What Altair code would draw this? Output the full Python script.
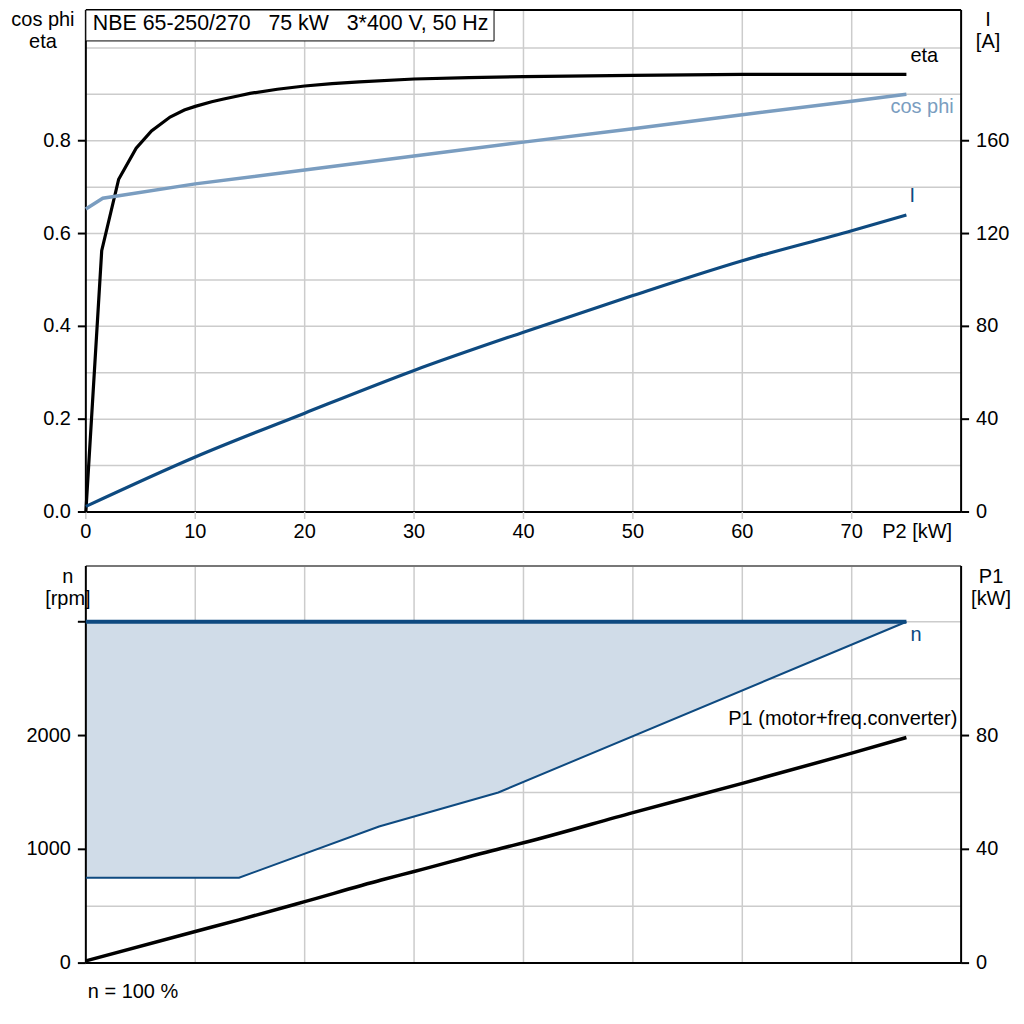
import altair as alt
import pandas as pd

# ---------------- data ----------------
p2_eta = [0, 1.45, 3.0, 4.6, 6.0, 7.7, 9.0, 10, 11.5, 12.6, 14, 15, 17.5, 20, 22.5, 25, 30, 35,
          40, 50, 60, 75]
eta = [0.0, 0.563, 0.717, 0.784, 0.821, 0.851, 0.866, 0.874, 0.884, 0.890, 0.897, 0.902, 0.911,
       0.918, 0.923, 0.927, 0.933, 0.936, 0.938, 0.941, 0.943, 0.943]

p2_cos = [0, 1.55, 10, 20, 30, 40, 50, 60, 70, 75]
cos_phi = [0.653, 0.676, 0.707, 0.737, 0.767, 0.797, 0.826, 0.856, 0.885, 0.900]

p2_I = [0, 10, 20, 30, 40, 50, 60, 70, 75]
current = [2.4, 23.7, 42.6, 61.0, 77.5, 93.3, 108.3, 121.2, 128.0]

p2_n = [0, 75]
n_max = [3000, 3000]
p2_nmin = [0, 14, 26.8, 37.7, 75]
n_min = [750, 750, 1200, 1500, 3000]

p2_P1 = [0, 10, 14, 20, 27, 30, 38, 40, 50, 60, 70, 75]
P1 = [0.8, 11.1, 15.2, 21.6, 29.2, 32.2, 40.4, 42.3, 52.9, 63.2, 73.8, 79.3]

# ticks / grid / labels
x_frame = [0, 80]
x_grid = [10, 20, 30, 40, 50, 60, 70]
x_ticks = [0, 10, 20, 30, 40, 50, 60, 70]
x_labels = ["0", "10", "20", "30", "40", "50", "60", "70"]
top_y_grid = [0.1, 0.2, 0.3, 0.4, 0.5, 0.6, 0.7, 0.8, 0.9, 1.0]
top_y_ticks = [0.0, 0.2, 0.4, 0.6, 0.8]
top_y_labels = ["0.0", "0.2", "0.4", "0.6", "0.8"]
I_ticks = [0, 40, 80, 120, 160]
I_labels = ["0", "40", "80", "120", "160"]
n_grid = [500, 1000, 1500, 2000, 2500, 3000]
n_ticks = [0, 1000, 2000, 3000]
n_labels = ["0", "1000", "2000", ""]
P1_ticks = [0, 40, 80]
P1_labels = ["0", "40", "80"]

title_text = "NBE 65-250/270\u00a0\u00a0\u00a075 kW\u00a0\u00a0\u00a03*400 V, 50 Hz"

# ---------------- geometry / style ----------------
W = 877
H1 = 503
H2 = 398
Y1_MAX = H1 / 465.0
I_MAX = Y1_MAX * 200
N_MAX = H2 / 0.114
P1_MAX = N_MAX / 25.0

C_BLACK = "#000000"
C_COS = "#7a9dc0"
C_DARK = "#0e4a80"
C_FILL = "#d0dce8"
C_GRID = "#cccccc"
C_TOPB = "#777777"
FS = 20

x_scale = alt.Scale(domain=[0, 80], nice=False)
y_top_scale = alt.Scale(domain=[0, Y1_MAX], nice=False)
I_scale = alt.Scale(domain=[0, I_MAX], nice=False)
n_scale = alt.Scale(domain=[0, N_MAX], nice=False)
P1_scale = alt.Scale(domain=[0, P1_MAX], nice=False)


def X(field="p2"):
    return alt.X(f"{field}:Q", scale=x_scale, axis=None)


def Y(scale, field="v"):
    return alt.Y(f"{field}:Q", scale=scale, axis=None)


def df1(col, vals, labels=None):
    d = pd.DataFrame({col: vals})
    if labels is not None:
        d["t"] = labels
    return d


def last(x, y, text):
    return pd.DataFrame({"p2": [x[-1]], "v": [y[-1]], "t": [text]})


def line(x, y, scale, color, width, interp="linear"):
    return alt.Chart(pd.DataFrame({"p2": x, "v": y})).mark_line(
        color=color, strokeWidth=width, interpolate=interp).encode(x=X(), y=Y(scale))


def end_label(x, y, text, scale, color, dx, dy, align="left"):
    return alt.Chart(last(x, y, text)).mark_text(
        align=align, baseline="middle", dx=dx, dy=dy, fontSize=FS, color=color).encode(
        x=X(), y=Y(scale), text="t:N")


def vrules(vals, color, width):
    return alt.Chart(df1("p2", vals)).mark_rule(color=color, strokeWidth=width).encode(x=X())


def hrules(vals, scale, color, width):
    return alt.Chart(df1("v", vals)).mark_rule(color=color, strokeWidth=width).encode(y=Y(scale))


def left_ticks(vals, labels, scale):
    d = df1("v", vals, labels)
    t = alt.Chart(d).mark_rule(color="black", strokeWidth=2).encode(
        y=Y(scale), x=alt.value(-8), x2=alt.value(0))
    lab = alt.Chart(d).mark_text(align="right", baseline="middle", fontSize=FS,
                                 color="black").encode(y=Y(scale), x=alt.value(-15), text="t:N")
    return [t, lab]


def right_ticks(vals, labels, scale):
    d = df1("v", vals, labels)
    t = alt.Chart(d).mark_rule(color="black", strokeWidth=2).encode(
        y=Y(scale), x=alt.value(W), x2=alt.value(W + 8))
    lab = alt.Chart(d).mark_text(align="left", baseline="middle", fontSize=FS,
                                 color="black").encode(y=Y(scale), x=alt.value(W + 15), text="t:N")
    return [t, lab]


def free_text(text, x, y, align="center", baseline="middle", size=FS, color="black"):
    return alt.Chart(df1("v", [0])).mark_text(
        text=text, align=align, baseline=baseline, fontSize=size, color=color,
        lineBreak="\n", lineHeight=22).encode(x=alt.value(x), y=alt.value(y))


# ---------------- top panel ----------------
x_tick_df = df1("p2", x_ticks, x_labels)
top_x_ticks = alt.Chart(x_tick_df).mark_rule(color=C_GRID, strokeWidth=1.5).encode(
    x=X(), y=alt.value(H1), y2=alt.value(H1 + 7))
top_x_labels = alt.Chart(x_tick_df).mark_text(baseline="middle", fontSize=FS, color="black").encode(
    x=X(), y=alt.value(H1 + 20), text="t:N")

title_box = alt.Chart(df1("v", [0])).mark_rect(
    fill="white", stroke="black", strokeWidth=1).encode(
    x=alt.value(0), x2=alt.value(409), y=alt.value(0), y2=alt.value(31))

top_left = alt.layer(
    vrules(x_grid, C_GRID, 1.5),
    hrules(top_y_grid, y_top_scale, C_GRID, 1.5),
    hrules([Y1_MAX], y_top_scale, "black", 2),
    hrules([0], y_top_scale, "black", 2),
    vrules(x_frame, "black", 2),
    top_x_ticks, top_x_labels,
    *left_ticks(top_y_ticks, top_y_labels, y_top_scale),
    line(p2_eta, eta, y_top_scale, C_BLACK, 3.2),
    line(p2_cos, cos_phi, y_top_scale, C_COS, 3.5),
    end_label(p2_eta, eta, "eta", y_top_scale, C_BLACK, 4, -18),
    end_label(p2_cos, cos_phi, "cos phi", y_top_scale, C_COS, -16, 13),
    title_box,
    free_text(title_text, 7, 14, align="left", size=21.4),
    free_text("cos phi\neta", -43, 0, baseline="top"),
    free_text("I\n[A]", W + 27, 0, baseline="top"),
    free_text("P2 [kW]", 833, H1 + 20),
)
top_right = alt.layer(
    line(p2_I, current, I_scale, C_DARK, 3.2, "monotone"),
    end_label(p2_I, current, "I", I_scale, C_DARK, 3, -19),
    *right_ticks(I_ticks, I_labels, I_scale),
)
top = alt.layer(top_left, top_right).resolve_scale(y="independent").properties(
    width=W, height=H1)

# ---------------- bottom panel ----------------
df_fill = pd.DataFrame({"p2": p2_nmin, "lo": n_min, "hi": [n_max[0]] * len(p2_nmin)})
fill = alt.Chart(df_fill).mark_area(color=C_FILL, opacity=1).encode(
    x=X(), y=Y(n_scale, "lo"), y2="hi:Q")

bot_left = alt.layer(
    vrules(x_grid, C_GRID, 1.5),
    hrules(n_grid, n_scale, C_GRID, 1.5),
    fill,
    hrules([N_MAX], n_scale, C_TOPB, 2),
    hrules([0], n_scale, "black", 2),
    vrules(x_frame, "black", 2),
    *left_ticks(n_ticks, n_labels, n_scale),
    line(p2_n, n_max, n_scale, C_DARK, 4),
    line(p2_nmin, n_min, n_scale, C_DARK, 2),
    end_label(p2_n, n_max, "n", n_scale, C_DARK, 4, 13),
    free_text("n\n[rpm]", -18, 1, baseline="top"),
    free_text("P1\n[kW]", W + 30, 1, baseline="top"),
    free_text("n = 100 %", 2, H2 + 29, align="left"),
)
bot_right = alt.layer(
    line(p2_P1, P1, P1_scale, C_BLACK, 3.5, "monotone"),
    end_label(p2_P1, P1, "P1 (motor+freq.converter)", P1_scale, C_BLACK, 51, -19, align="right"),
    *right_ticks(P1_ticks, P1_labels, P1_scale),
)
bottom = alt.layer(bot_left, bot_right).resolve_scale(y="independent").properties(
    width=W, height=H2)

chart = alt.vconcat(top, bottom, spacing=23).properties(
    padding={"left": 3, "top": 0, "right": 5, "bottom": 5}
).configure(font="Liberation Sans").configure_view(stroke=None)

chart.save("out.html", embed_options={"renderer": "svg", "actions": False})
